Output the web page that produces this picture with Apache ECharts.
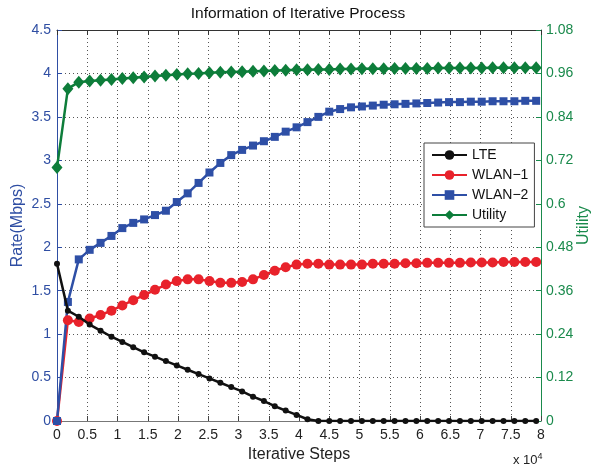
<!DOCTYPE html>
<html>
<head>
<meta charset="utf-8">
<script src="https://cdn.jsdelivr.net/npm/echarts@6/dist/echarts.min.js"></script>
<style>
  html, body { margin: 0; padding: 0; background: #fff; }
  #chart { width: 596px; height: 468px; }
</style>
</head>
<body>
<div id="chart"></div>
<script>
// iterative steps, in units of 10^4
const steps = [0, 0.18, 0.36, 0.54, 0.72, 0.9, 1.08, 1.26, 1.44, 1.62, 1.8, 1.98, 2.16, 2.34, 2.52,
  2.7, 2.88, 3.06, 3.24, 3.42, 3.6, 3.78, 3.96, 4.14, 4.32, 4.5, 4.68, 4.86, 5.04, 5.22,
  5.4, 5.58, 5.76, 5.94, 6.12, 6.3, 6.48, 6.66, 6.84, 7.02, 7.2, 7.38, 7.56, 7.74, 7.92]

const lte = [1.81, 1.27, 1.2, 1.11, 1.04, 0.97, 0.91, 0.85, 0.79, 0.74, 0.69, 0.64, 0.59, 0.54, 0.49,
  0.44, 0.39, 0.34, 0.28, 0.23, 0.17, 0.12, 0.07, 0.02, 0, 0, 0, 0, 0, 0,
  0, 0, 0, 0, 0, 0, 0, 0, 0, 0, 0, 0, 0, 0, 0]

const wlan1 = [0, 1.16, 1.14, 1.18, 1.22, 1.27, 1.33, 1.39, 1.45, 1.51, 1.57, 1.61, 1.63, 1.63, 1.61,
  1.59, 1.59, 1.6, 1.63, 1.68, 1.73, 1.77, 1.8, 1.81, 1.81, 1.8, 1.8, 1.8, 1.8, 1.81,
  1.81, 1.81, 1.815, 1.815, 1.82, 1.82, 1.82, 1.82, 1.825, 1.825, 1.825, 1.83, 1.83, 1.83, 1.83]

const wlan2 = [0, 1.37, 1.86, 1.97, 2.05, 2.13, 2.22, 2.28, 2.32, 2.37, 2.42, 2.52, 2.62, 2.74, 2.86,
  2.97, 3.06, 3.12, 3.17, 3.22, 3.27, 3.33, 3.38, 3.44, 3.5, 3.56, 3.59, 3.61, 3.62, 3.63,
  3.64, 3.645, 3.65, 3.655, 3.66, 3.665, 3.67, 3.67, 3.675, 3.675, 3.68, 3.68, 3.68, 3.685, 3.685]

const utility = [0.7, 0.918, 0.936, 0.939, 0.941, 0.943, 0.946, 0.948, 0.95, 0.953, 0.955, 0.957, 0.959, 0.96, 0.962,
  0.963, 0.964, 0.965, 0.966, 0.967, 0.968, 0.969, 0.97, 0.97, 0.971, 0.971, 0.972, 0.972, 0.973, 0.973,
  0.973, 0.974, 0.974, 0.974, 0.974, 0.975, 0.975, 0.975, 0.975, 0.975, 0.976, 0.976, 0.976, 0.976, 0.976]

const font = 'Liberation Sans, Arial, sans-serif'
const blue = '#2f4ea3'
const green = '#1a8a4c'

function pairs(ys) {
  return steps.map((x, i) => [x, ys[i]])
}

const chart = echarts.init(document.getElementById('chart'), null, { renderer: 'canvas' })

const dotted = { show: true, lineStyle: { type: [1, 3], color: '#555', width: 1 } }

chart.setOption({
  animation: false,
  backgroundColor: '#fff',
  textStyle: { fontFamily: font },
  title: {
    text: 'Information of Iterative Process',
    left: 'center', top: 1,
    textStyle: { fontFamily: font, fontSize: 15.5, fontWeight: 'normal', color: '#111' }
  },
  grid: { left: 57, right: 55, top: 30, bottom: 47, containLabel: false, outerBoundsMode: 'none' },
  legend: {
    orient: 'vertical',
    left: 424, top: 143,
    padding: [5, 6, 5, 7],
    itemGap: 6,
    itemWidth: 35, itemHeight: 12,
    backgroundColor: '#fff',
    borderColor: '#444', borderWidth: 1,
    textStyle: { fontFamily: font, fontSize: 14, color: '#111' },
    data: ['LTE', 'WLAN−1', 'WLAN−2', 'Utility']
  },
  xAxis: [{
    type: 'value', min: 0, max: 8, interval: 0.5,
    name: 'Iterative Steps', nameLocation: 'middle', nameGap: 24,
    nameTextStyle: { fontFamily: font, fontSize: 16, color: '#222' },
    axisLine: { show: true, onZero: false, lineStyle: { color: '#777', width: 1 } },
    axisTick: { show: true, inside: true, length: 5, lineStyle: { color: '#444' } },
    axisLabel: { fontFamily: font, fontSize: 14, color: '#222', margin: 7 },
    splitLine: dotted
  }, {
    type: 'value', min: 0, max: 8, interval: 0.5, position: 'top',
    axisLine: { show: true, onZero: false, lineStyle: { color: '#333', width: 1 } },
    axisTick: { show: true, inside: true, length: 5, lineStyle: { color: '#333' } },
    axisLabel: { show: false },
    splitLine: { show: false }
  }],
  yAxis: [{
    type: 'value', min: 0, max: 4.5, interval: 0.5,
    name: 'Rate(Mbps)', nameLocation: 'middle', nameGap: 31, nameMoveOverlap: false,
    nameTextStyle: { fontFamily: font, fontSize: 16, color: blue },
    axisLine: { show: true, onZero: false, lineStyle: { color: blue, width: 1 } },
    axisTick: { show: true, inside: true, length: 5, lineStyle: { color: blue } },
    axisLabel: { fontFamily: font, fontSize: 14, color: blue, margin: 6 },
    splitLine: dotted
  }, {
    type: 'value', min: 0, max: 1.08, interval: 0.12, position: 'right',
    name: 'Utility', nameLocation: 'middle', nameGap: 35, nameMoveOverlap: false,
    nameTextStyle: { fontFamily: font, fontSize: 16, color: green },
    axisLine: { show: true, onZero: false, lineStyle: { color: green, width: 1 } },
    axisTick: { show: true, inside: true, length: 5, lineStyle: { color: green } },
    axisLabel: {
      fontFamily: font, fontSize: 14, color: green, margin: 5,
      formatter: v => String(parseFloat(v.toFixed(2)))
    },
    splitLine: { show: false }
  }],
  graphic: [{
    type: 'text', left: 513, top: 452,
    style: {
      text: '{a|x 10}{b|4}',
      rich: {
        a: { fontFamily: font, fontSize: 13, fill: '#222' },
        b: { fontFamily: font, fontSize: 9, fill: '#222', verticalAlign: 'top', padding: [0, 0, 8, 0] }
      }
    }
  }],
  series: [{
    name: 'LTE', type: 'line', data: pairs(lte),
    symbol: 'circle', symbolSize: 6, color: '#111',
    lineStyle: { width: 2.5 }, z: 3
  }, {
    name: 'WLAN−1', type: 'line', data: pairs(wlan1),
    symbol: 'circle', symbolSize: 10, color: '#e8222b',
    lineStyle: { width: 2.5 }, z: 2
  }, {
    name: 'WLAN−2', type: 'line', data: pairs(wlan2),
    symbol: 'rect', symbolSize: 8, color: '#2e4fa6',
    lineStyle: { width: 2.5 }, z: 2
  }, {
    name: 'Utility', type: 'line', yAxisIndex: 1, data: pairs(utility),
    symbol: 'diamond', symbolSize: [11, 13], color: '#0d7d3a',
    lineStyle: { width: 2.5 }, z: 2
  }]
})
</script>
</body>
</html>
